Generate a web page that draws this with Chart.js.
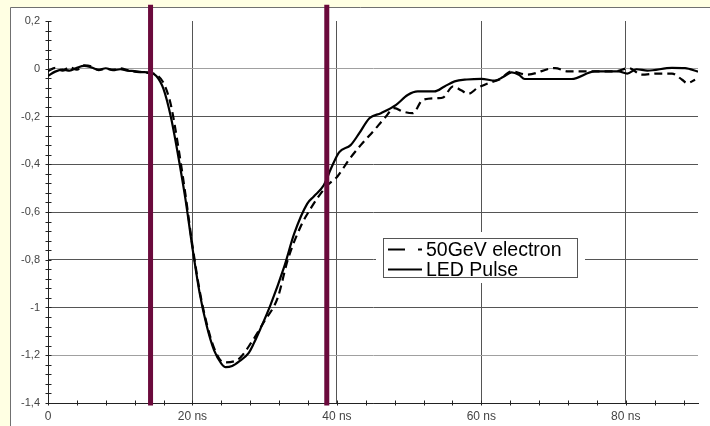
<!DOCTYPE html>
<html>
<head>
<meta charset="utf-8">
<script src="https://cdn.jsdelivr.net/npm/chart.js@4.4.0/dist/chart.umd.min.js"></script>
<style>
  html, body { margin: 0; padding: 0; background: #ffffe3; }
</style>
</head>
<body>
<canvas id="pulseChart" width="710" height="426"></canvas>
<script>
// time in ns, amplitude in V
const ledPulse = [
    [0, -0.03], [1, -0.012], [2, -0.004], [3, -0.008], [4, 0.004], [5, 0.012], [6, 0.006],
    [7, -0.004], [8, 0.002], [9, -0.006], [10, -0.002], [11, -0.008], [12, -0.01], [13, -0.014],
    [14, -0.016], [15, -0.03], [16, -0.085], [17, -0.2], [18, -0.36], [19, -0.54], [20, -0.75],
    [21, -0.94], [22, -1.08], [23, -1.18], [24, -1.235], [24.6, -1.25], [25.5, -1.245],
    [26.5, -1.225], [27.8, -1.19], [28.5, -1.15], [29.4, -1.09], [30.8, -0.99], [32.7, -0.83],
    [34.1, -0.69], [35.9, -0.565], [36.8, -0.535], [38.2, -0.487], [39.2, -0.417], [40.3, -0.35],
    [41.9, -0.32], [43.1, -0.27], [44.5, -0.207], [46.1, -0.186], [48.2, -0.151], [49.8, -0.11],
    [51.2, -0.095], [53.5, -0.095], [54.9, -0.074], [56.3, -0.053], [58, -0.045], [60, -0.042],
    [61.9, -0.05], [63, -0.035], [64.2, -0.015], [65.2, -0.025], [66, -0.043], [72.5, -0.043],
    [75.7, -0.011], [79, -0.011], [80.2, -0.02], [81.5, -0.002], [83, -0.008], [86.4, 0.004],
    [88.2, 0.003], [90, -0.012]
];

const electron50GeV = [
    [0, -0.01], [1, 0.004], [2, -0.008], [3, 0.006], [4, -0.004], [5, 0.014], [6, 0.01],
    [7, -0.006], [8, 0], [9, -0.004], [10, 0.002], [11, -0.006], [12, -0.012], [13, -0.015],
    [14, -0.018], [15, -0.025], [16, -0.06], [17, -0.15], [18, -0.32], [19, -0.52], [20, -0.74],
    [21, -0.93], [22, -1.07], [23, -1.17], [24.3, -1.23], [26.2, -1.22], [28.3, -1.14],
    [29.9, -1.06], [31.8, -0.96], [33.2, -0.8], [35, -0.66], [36.4, -0.584], [38.5, -0.494],
    [40.1, -0.45], [41.7, -0.38], [43.3, -0.32], [45.2, -0.256], [46.6, -0.207], [48, -0.165],
    [49.1, -0.179], [50.5, -0.186], [51.9, -0.13], [54, -0.123], [54.7, -0.12], [56.1, -0.074],
    [57.2, -0.09], [58.2, -0.105], [59.5, -0.08], [61, -0.06], [62.5, -0.045], [64.2, -0.011],
    [66.3, -0.025], [70.2, 0.003], [72, -0.011], [78.5, -0.011], [80.4, 0.003], [82.2, -0.025],
    [84.5, -0.02], [86.4, -0.02], [87.8, -0.046], [88.5, -0.06], [89.6, -0.046]
];

// integration window edges
const windowTimes = [14.2, 38.6];
const windowSpan = [0.268, -1.41];

const xTicks = [0, 20, 40, 60, 80];
const yTicks = [0.2, 0, -0.2, -0.4, -0.6, -0.8, -1, -1.2, -1.4];
const xMinorStep = 4;
const yMinorStep = 0.04;

const fontFamily = "Arial, 'Liberation Sans', sans-serif";

function toPoints(pairs) {
    return pairs.map(p => ({ x: p[0], y: p[1] }));
}

function fmtY(v) {
    const n = Number(v.toFixed(1));
    return (n === 0 ? '0' : String(n)).replace('.', ',');
}

// yellow page with a white panel behind the plot
const panelPlugin = {
    id: 'panel',
    beforeDraw(chart) {
        const c = chart.ctx;
        c.save();
        c.fillStyle = '#ffffe3';
        c.fillRect(0, 0, chart.width, chart.height);
        c.fillStyle = '#ffffff';
        c.fillRect(10, 7, chart.width - 10, chart.height - 7);
        c.strokeStyle = '#707070';
        c.lineWidth = 1;
        c.beginPath();
        c.moveTo(10.5, chart.height);
        c.lineTo(10.5, 7.5);
        c.lineTo(chart.width, 7.5);
        c.stroke();
        c.restore();
    }
};

// tick marks crossing both axes, major and minor
const axisTicksPlugin = {
    id: 'axisTicks',
    afterDatasetsDraw(chart) {
        const c = chart.ctx;
        const xs = chart.scales.x, ys = chart.scales.y;
        const x0 = Math.round(xs.left) + 0.5;
        const y0 = Math.round(ys.bottom) - 0.5;
        c.save();
        c.strokeStyle = '#222';
        c.lineWidth = 1;
        c.beginPath();
        for (let v = ys.min; v <= ys.max + 1e-6; v += yMinorStep) {
            const py = Math.round(ys.getPixelForValue(v)) + 0.5;
            c.moveTo(x0 - 3, py);
            c.lineTo(x0 + 3, py);
        }
        for (let v = xs.min; v <= xs.max + 1e-6; v += xMinorStep) {
            const px = Math.round(xs.getPixelForValue(v)) + 0.5;
            c.moveTo(px, y0 - 2);
            c.lineTo(px, y0 + 3);
        }
        c.stroke();
        c.restore();
    }
};

// boxed legend inside the plot
const boxLegendPlugin = {
    id: 'boxLegend',
    afterDatasetsDraw(chart) {
        const c = chart.ctx;
        const items = chart.data.datasets.filter(d => d.label);
        c.save();
        c.fillStyle = '#ffffff';
        c.fillRect(376, 232, 209, 51);
        c.strokeStyle = '#555';
        c.lineWidth = 1;
        c.strokeRect(383.5, 238.5, 194, 39);
        c.font = '19.5px ' + fontFamily;
        c.textBaseline = 'middle';
        c.fillStyle = '#000';
        items.forEach((d, i) => {
            const cy = 249.5 + i * 20;
            c.strokeStyle = '#000';
            c.lineWidth = 2;
            c.setLineDash(d.borderDash && d.borderDash.length ? [17, 13] : []);
            c.beginPath();
            c.moveTo(388, cy);
            c.lineTo(422, cy);
            c.stroke();
            c.setLineDash([]);
            c.fillText(d.label, 426, cy + 1);
        });
        c.restore();
    }
};

const ctx = document.getElementById('pulseChart').getContext('2d');

new Chart(ctx, {
    type: 'line',
    data: {
        datasets: [
            {
                data: [{ x: windowTimes[0], y: windowSpan[0] }, { x: windowTimes[0], y: windowSpan[1] }],
                borderColor: '#6b0a3c', borderWidth: 5, pointRadius: 0, clip: false, order: 0
            },
            {
                data: [{ x: windowTimes[1], y: windowSpan[0] }, { x: windowTimes[1], y: windowSpan[1] }],
                borderColor: '#6b0a3c', borderWidth: 5, pointRadius: 0, clip: false, order: 0
            },
            {
                label: '50GeV electron',
                data: toPoints(electron50GeV),
                borderColor: '#000', borderWidth: 2.2, borderDash: [8, 5],
                pointRadius: 0, cubicInterpolationMode: 'monotone', order: 1
            },
            {
                label: 'LED Pulse',
                data: toPoints(ledPulse),
                borderColor: '#000', borderWidth: 2.2,
                pointRadius: 0, cubicInterpolationMode: 'monotone', order: 1
            }
        ]
    },
    options: {
        responsive: false,
        animation: false,
        layout: { padding: { left: 10, top: 21, right: 12, bottom: 0 } },
        plugins: {
            legend: { display: false },
            tooltip: { enabled: false }
        },
        scales: {
            x: {
                type: 'linear',
                min: 0,
                max: 90,
                afterBuildTicks: s => { s.ticks = xTicks.map(v => ({ value: v })); },
                afterFit: s => { s.height = 23; },
                grid: {
                    color: c => (c.tick && c.tick.value === 0) ? 'rgba(0,0,0,0)' : '#555',
                    drawTicks: false
                },
                border: { display: true, color: '#222' },
                ticks: {
                    padding: 6,
                    color: '#444',
                    font: { family: fontFamily, size: 12 },
                    maxRotation: 0,
                    autoSkip: false,
                    callback: v => v === 0 ? '0' : v + ' ns'
                }
            },
            y: {
                min: -1.4,
                max: 0.2,
                afterBuildTicks: s => { s.ticks = yTicks.map(v => ({ value: v })); },
                afterFit: s => { s.width = 38; },
                grid: {
                    color: c => {
                        const v = c.tick ? Number(c.tick.value.toFixed(1)) : null;
                        if (v === 0.2) return 'rgba(0,0,0,0)';
                        if (v === 0 || v === -1.2) return '#a0a0a0';
                        return '#555';
                    },
                    drawTicks: false
                },
                border: { display: true, color: '#222' },
                ticks: {
                    padding: 8,
                    color: '#444',
                    font: { family: fontFamily, size: 11 },
                    autoSkip: false,
                    callback: v => fmtY(v)
                }
            }
        }
    },
    plugins: [panelPlugin, axisTicksPlugin, boxLegendPlugin]
});
</script>
</body>
</html>
